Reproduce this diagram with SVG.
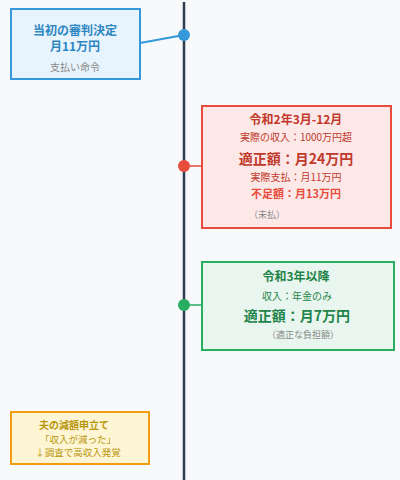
<svg xmlns="http://www.w3.org/2000/svg" width="400" height="480" viewBox="0 0 400 480">
<style>
text{font-family:"Noto Sans CJK JP","Noto Sans",sans-serif;text-anchor:middle}
.b{font-weight:bold}
.gray{fill:#888}
.blue{fill:#2e86c1}
.red{fill:#c0392b}
.green{fill:#1e8449}
.yel{fill:#b7950b}
</style>
<rect width="400" height="480" fill="#f8f9fa"/>
<g id="connectors">
<line x1="184" y1="2" x2="184" y2="480" stroke="#2c3e50" stroke-width="2.5"/>
<line x1="140" y1="43" x2="184" y2="35" stroke="#3498db" stroke-width="2"/>
<line x1="184" y1="166" x2="202" y2="166" stroke="#e74c3c" stroke-width="1.5"/>
<line x1="184" y1="305" x2="202" y2="305" stroke="#27ae60" stroke-width="1.5"/>
</g>
<g id="node-initial">
<rect x="11" y="9" width="129" height="70" fill="#e8f4fd" stroke="#3498db" stroke-width="2"/>
<text x="75" y="35" font-size="12" class="b blue">当初の審判決定</text>
<text x="75" y="51" font-size="12" class="b blue">月11万円</text>
<text x="75" y="71" font-size="10" class="gray">支払い命令</text>
<circle cx="184" cy="35" r="6" fill="#3498db"/>
</g>
<g id="node-r2">
<rect x="202" y="106" width="189" height="122" fill="#fde8e8" stroke="#e74c3c" stroke-width="2"/>
<text x="296" y="124" font-size="12" class="b red">令和2年3月-12月</text>
<text x="296" y="141" font-size="10" class="red">実際の収入：1000万円超</text>
<text x="296" y="164" font-size="14" class="b red">適正額：月24万円</text>
<text x="296" y="181" font-size="10" class="red">実際支払：月11万円</text>
<text x="296" y="198" font-size="11" class="b" fill="#e74c3c">不足額：月13万円</text>
<text x="267" y="218" font-size="9" class="gray">（未払）</text>
<circle cx="184" cy="166" r="6" fill="#e74c3c"/>
</g>
<g id="node-r3">
<rect x="202" y="262" width="192" height="88" fill="#e8f6ef" stroke="#27ae60" stroke-width="2"/>
<text x="296" y="281" font-size="12" class="b green">令和3年以降</text>
<text x="297" y="300" font-size="10" class="green">収入：年金のみ</text>
<text x="297" y="321" font-size="14" class="b green">適正額：月7万円</text>
<text x="303" y="338" font-size="9" class="gray">（適正な負担額）</text>
<circle cx="184" cy="305" r="6" fill="#27ae60"/>
</g>
<g id="node-petition">
<rect x="11" y="412" width="138" height="52" fill="#fef5d4" stroke="#f39c12" stroke-width="2"/>
<text x="74" y="429" font-size="10" class="b yel">夫の減額申立て</text>
<text x="78" y="443" font-size="9.5" class="yel">「収入が減った」</text>
<text x="78" y="456" font-size="9.5" class="yel">↓調査で高収入発覚</text>
</g>
</svg>
